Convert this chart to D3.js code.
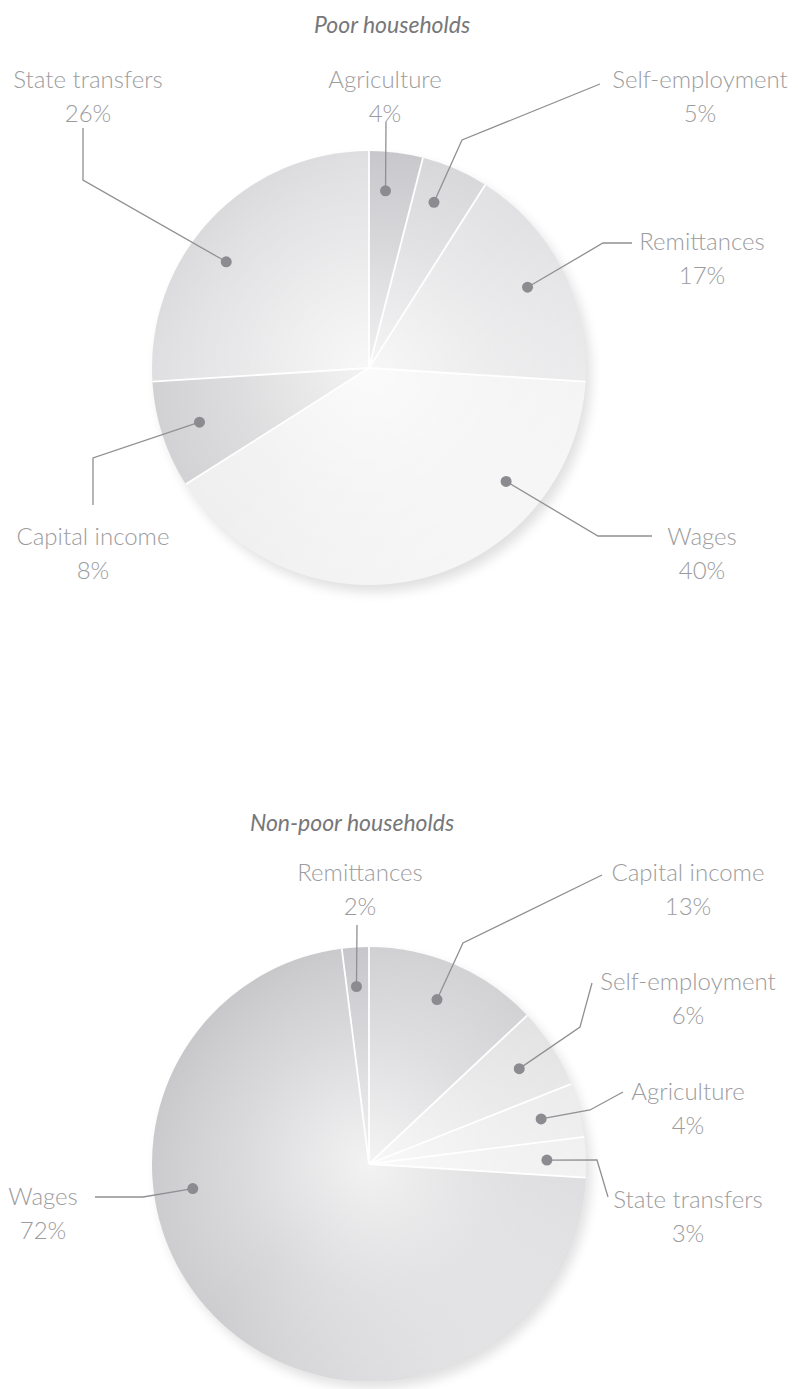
<!DOCTYPE html>
<html>
<head>
<meta charset="utf-8">
<script src="https://cdn.jsdelivr.net/npm/d3@7"></script>
<style>
  html, body { margin: 0; padding: 0; background: #ffffff; }
  svg { display: block; }
  .label { font-family: "Lato", "Open Sans", sans-serif; font-weight: 300; font-size: 24px; fill: #9c9c9e; }
  .title { font-family: "Lato", "Open Sans", sans-serif; font-style: italic; font-weight: 400; font-size: 23px; fill: #77777a; }
</style>
</head>
<body>
<script>
// Income sources, shares in percent, listed clockwise from 12 o'clock
const poorCategories = ["Agriculture", "Self-employment", "Remittances", "Wages", "Capital income", "State transfers"];
const poorShares = [4, 5, 17, 40, 8, 26];

const nonPoorCategories = ["Capital income", "Self-employment", "Agriculture", "State transfers", "Wages", "Remittances"];
const nonPoorShares = [13, 6, 4, 3, 72, 2];

const titles = ["Poor households", "Non-poor households"];

// Presentation: slice tones and label layout
const poorTones = ["#c9c9cd", "#d8d8db", "#e1e1e3", "#efefef", "#d2d2d4", "#e2e2e4"];
const nonPoorTones = ["#d2d2d5", "#e2e2e3", "#e8e8e9", "#ebebeb", "#cdcdd0", "#c9c9cd"];

// t: where the marker sits along the slice's arc (0..1); leader: bend points; label: text centre
const poorLayout = [
  { t: 0.37, leader: [[386, 122]], label: [385, 80] },
  { t: 0.39, leader: [[462, 140], [600, 84]], label: [700, 80] },
  { t: 0.50, leader: [[603, 243], [632, 243]], label: [702, 242] },
  { t: 0.25, leader: [[598, 536], [652, 536]], label: [702, 537] },
  { t: 0.51, leader: [[93, 458], [93, 505]], label: [93, 537] },
  { t: 0.43, leader: [[83, 180], [83, 128]], label: [88, 80] }
];
const nonPoorLayout = [
  { t: 0.48, leader: [[463, 943], [602, 875]], label: [688, 873] },
  { t: 0.50, leader: [[580, 1027], [592, 983]], label: [688, 982] },
  { t: 0.48, leader: [[590, 1110], [623, 1092]], label: [688, 1092] },
  { t: 0.55, leader: [[597, 1160], [608, 1197]], label: [688, 1200] },
  { t: 0.65, leader: [[143, 1197], [95, 1197]], label: [43, 1197] },
  { t: 0.44, leader: [[357, 925]], label: [360, 873] }
];

const W = 798, H = 1389;
const R = 217;
const charts = [
  { title: titles[0], titlePos: [392, 25], cx: 369, cy: 368, cats: poorCategories, vals: poorShares, tones: poorTones, layout: poorLayout },
  { title: titles[1], titlePos: [352, 823], cx: 369, cy: 1164, cats: nonPoorCategories, vals: nonPoorShares, tones: nonPoorTones, layout: nonPoorLayout }
];

const svg = d3.select("body").append("svg").attr("width", W).attr("height", H);
const defs = svg.append("defs");

// soft drop shadow under each disc
const blur = defs.append("filter").attr("id", "soft").attr("x", "-20%").attr("y", "-20%").attr("width", "140%").attr("height", "140%");
blur.append("feGaussianBlur").attr("stdDeviation", 6);

// light falls from the lower right, darker rim at the upper left
const lin = defs.append("linearGradient").attr("id", "light")
  .attr("x1", "0%").attr("y1", "0%").attr("x2", "100%").attr("y2", "100%");
lin.append("stop").attr("offset", "0%").attr("stop-color", "#6a6a70").attr("stop-opacity", 0.14);
lin.append("stop").attr("offset", "50%").attr("stop-color", "#ffffff").attr("stop-opacity", 0.0);
lin.append("stop").attr("offset", "100%").attr("stop-color", "#ffffff").attr("stop-opacity", 0.65);

const rad = defs.append("radialGradient").attr("id", "glow").attr("cx", "50%").attr("cy", "50%").attr("r", "50%");
rad.append("stop").attr("offset", "0%").attr("stop-color", "#ffffff").attr("stop-opacity", 0.75);
rad.append("stop").attr("offset", "60%").attr("stop-color", "#ffffff").attr("stop-opacity", 0.25);
rad.append("stop").attr("offset", "100%").attr("stop-color", "#ffffff").attr("stop-opacity", 0.0);

const pie = d3.pie().sort(null).value(d => d);
const arc = d3.arc().innerRadius(0).outerRadius(R);
const lineGen = d3.line();

charts.forEach(c => {
  const arcs = pie(c.vals);

  svg.append("text").attr("class", "title")
    .attr("x", c.titlePos[0]).attr("y", c.titlePos[1]).attr("dy", "0.35em")
    .attr("text-anchor", "middle").text(c.title);

  const g = svg.append("g").attr("transform", `translate(${c.cx},${c.cy})`);

  g.append("circle").attr("cx", 5).attr("cy", 7).attr("r", R)
    .attr("fill", "#000").attr("opacity", 0.12).attr("filter", "url(#soft)");

  g.selectAll("path.slice").data(arcs).join("path")
    .attr("class", "slice")
    .attr("d", arc)
    .attr("fill", (d, i) => c.tones[i]);

  g.append("circle").attr("r", R).attr("fill", "url(#light)");
  g.append("circle").attr("r", R).attr("fill", "url(#glow)");

  // white radial seams between slices
  g.selectAll("line.seam").data(arcs).join("line")
    .attr("class", "seam")
    .attr("x1", 0).attr("y1", 0)
    .attr("x2", d => R * Math.sin(d.startAngle))
    .attr("y2", d => -R * Math.cos(d.startAngle))
    .attr("stroke", "#ffffff")
    .attr("stroke-width", 1.8);

  // markers and leaders
  arcs.forEach((a, i) => {
    const L = c.layout[i];
    const ang = a.startAngle + L.t * (a.endAngle - a.startAngle);
    const dr = R * 0.82;
    const dot = [c.cx + dr * Math.sin(ang), c.cy - dr * Math.cos(ang)];
    const pts = [dot].concat(L.leader);

    svg.append("path").attr("d", lineGen(pts))
      .attr("fill", "none").attr("stroke", "#909094").attr("stroke-width", 1.3);
    svg.append("circle").attr("cx", dot[0]).attr("cy", dot[1]).attr("r", 5.5)
      .attr("fill", "#8c8c90");

    const t = svg.append("text").attr("class", "label")
      .attr("x", L.label[0]).attr("y", L.label[1]).attr("text-anchor", "middle");
    t.append("tspan").attr("x", L.label[0]).attr("dy", "0.35em").text(c.cats[i]);
    t.append("tspan").attr("x", L.label[0]).attr("dy", "1.38em").text(c.vals[i] + "%");
  });
});
</script>
</body>
</html>
